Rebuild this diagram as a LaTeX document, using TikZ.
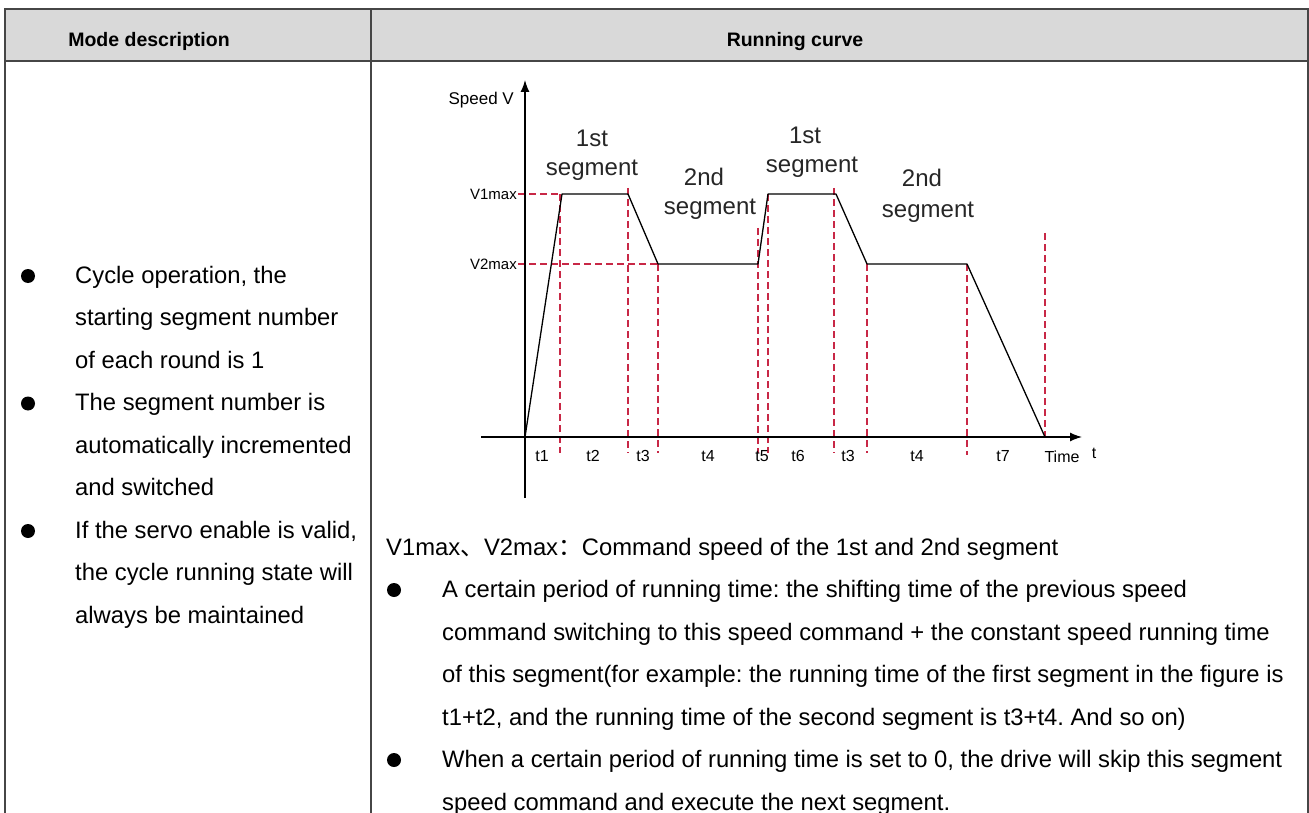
\documentclass[tikz,border=0pt]{standalone}
\usepackage{fontspec}
\setmainfont{Liberation Sans}
\newfontfamily\cjk{Noto Sans CJK SC}
\usetikzlibrary{arrows.meta}
\frenchspacing
\definecolor{hdrgray}{RGB}{217,217,217}
\definecolor{gridline}{RGB}{70,70,70}
\definecolor{dashred}{RGB}{200,40,70}
\tikzset{
  body/.style={anchor=base west, inner sep=0pt, font=\fontsize{23.8}{28}\selectfont},
  hdr/.style={anchor=base, inner sep=0pt, font=\fontsize{19.5}{24}\selectfont\bfseries},
  seg/.style={anchor=center, inner sep=0pt, font=\fontsize{24}{26}\selectfont, text=black!85},
  tlab/.style={anchor=center, inner sep=0pt, font=\fontsize{16}{18}\selectfont},
  ylab/.style={anchor=east, inner sep=0pt, font=\fontsize{15}{18}\selectfont},
  bul/.style={circle, fill=black, inner sep=0pt, minimum size=14pt},
  curve/.style={line width=1.3pt, black, line join=round},
  guide/.style={line width=1.6pt, dashred, dash pattern=on 7pt off 4pt},
  axis/.style={line width=1.3pt, black, -{Latex[length=12pt,width=9pt]}},
  rule/.style={line width=1.3pt, gridline}
}
\begin{document}
\begin{tikzpicture}[x=1pt,y=-1pt]
\useasboundingbox (0,0) rectangle (1309,813);
% header
\fill[hdrgray] (5,9) rectangle (1308,61);
\draw[rule] (5,813) -- (5,9) -- (1308,9) -- (1308,813);
\draw[rule] (5,61) -- (1308,61);
\draw[rule] (371,9) -- (371,813);
\node[hdr] (h1) at (149,47) {Mode description};
\node[hdr] (h2) at (795,47) {Running curve};
% left column
\node[bul] (lb1) at (28,276) {};
\node[body] (l1) at (75,283) {Cycle operation, the};
\node[body] (l2) at (75,325.5) {starting segment number};
\node[body] (l3) at (75,368) {of each round is 1};
\node[bul] (lb2) at (28,403.5) {};
\node[body] (l4) at (75,410.5) {The segment number is};
\node[body] (l5) at (75,453) {automatically incremented};
\node[body] (l6) at (75,495.5) {and switched};
\node[bul] (lb3) at (28,531) {};
\node[body] (l7) at (75,538) {If the servo enable is valid,};
\node[body] (l8) at (75,580.5) {the cycle running state will};
\node[body] (l9) at (75,623) {always be maintained};
% right column text
\node[body] (r0) at (386,555) {V1max{\cjk 、}V2max{\cjk ：}Command speed of the 1st and 2nd segment};
\node[bul] (rb1) at (394,590) {};
\node[body] (r1) at (442,597.5) {A certain period of running time: the shifting time of the previous speed};
\node[body] (r2) at (442,640) {command switching to this speed command + the constant speed running time};
\node[body] (r3) at (442,682.5) {of this segment(for example: the running time of the first segment in the figure is};
\node[body] (r4) at (442,725) {t1+t2, and the running time of the second segment is t3+t4. And so on)};
\node[bul] (rb2) at (394,760) {};
\node[body] (r5) at (442,767.5) {When a certain period of running time is set to 0, the drive will skip this segment};
\node[body] (r6) at (442,810) {speed command and execute the next segment.};
% chart guides
\draw[guide] (518,194) -- (562,194);
\draw[guide] (518,264) -- (658,264);
\draw[guide] (560,194) -- (560,453);
\draw[guide] (628,188) -- (628,453);
\draw[guide] (658,264) -- (658,453);
\draw[guide] (758,228) -- (758,453);
\draw[guide] (768,194) -- (768,453);
\draw[guide] (834,188) -- (834,453);
\draw[guide] (867,264) -- (867,453);
\draw[guide] (967,264) -- (967,455);
\draw[guide] (1045,233) -- (1045,437);
% axes
\coordinate (o) at (525,437);
\draw[axis] (525,498) -- (525,80);
\draw[axis] (481,437) -- (1082,437);
% curve
\draw[curve] (o) -- (562,194) -- (628,194) -- (658,264) -- (758,264) -- (768,194)
  -- (836,194) -- (867,264) -- (967,264) -- (1045,437);
% chart labels
\node[anchor=east, inner sep=0pt, font=\fontsize{17}{19}\selectfont] (sv) at (514,100) {Speed V};
\node[ylab] (v1) at (517,194) {V1max};
\node[ylab] (v2) at (517,264) {V2max};
\node[seg] (s1a) at (592,138) {1st};
\node[seg] (s1b) at (592,170) {segment};
\node[seg] (s2a) at (704,177) {2nd};
\node[seg] (s2b) at (710,209) {segment};
\node[seg] (s3a) at (805,135) {1st};
\node[seg] (s3b) at (812,167) {segment};
\node[seg] (s4a) at (922,178) {2nd};
\node[seg] (s4b) at (928,212) {segment};
\node[tlab] (t1) at (542,456) {t1};
\node[tlab] (t2) at (593,456) {t2};
\node[tlab] (t3) at (643,456) {t3};
\node[tlab] (t4) at (708,456) {t4};
\node[tlab] (t5) at (762,456) {t5};
\node[tlab] (t6) at (798,456) {t6};
\node[tlab] (t3b) at (848,456) {t3};
\node[tlab] (t4b) at (917,456) {t4};
\node[tlab] (t7) at (1003,456) {t7};
\node[tlab] (tm) at (1062,457) {Time};
\node[tlab] (tt) at (1094,453) {t};
\end{tikzpicture}
\end{document}
